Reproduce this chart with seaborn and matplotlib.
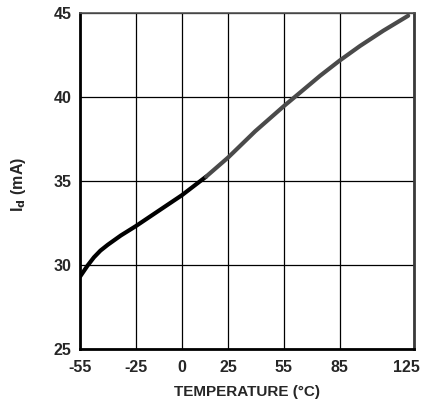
import numpy as np
import pandas as pd
import matplotlib
matplotlib.use('Agg')
import matplotlib.pyplot as plt
import matplotlib.transforms as mtransforms
import seaborn as sns

# values
temp_c = [-55, -51, -47.5, -44, -40, -33, -25, -11.5, 0, 13, 25, 39.5,
          55, 63.7, 74.5, 85, 96, 108.6, 122]
id_ma = [29.3, 29.95, 30.45, 30.85, 31.2, 31.75, 32.3, 33.3, 34.15, 35.25, 36.4, 37.95,
         39.45, 40.25, 41.25, 42.15, 43.02, 43.93, 44.82]

x_ticks = [-55, -25, 0, 25, 55, 85, 125]
y_ticks = [25, 30, 35, 40, 45]

sns.set_style("white")
plt.rcParams['font.family'] = ['Liberation Sans', 'DejaVu Sans']

df = pd.DataFrame({'temp': temp_c, 'id': id_ma})

fig = plt.figure(figsize=(4.22, 4.01), dpi=100)
ax = fig.add_axes([0.1896, 0.1297, 0.7908, 0.8386])

cold = df[df['temp'] <= 13]
warm = df[df['temp'] >= 13]
sns.lineplot(data=cold, x='temp', y='id', color='black', linewidth=3, ax=ax)
sns.lineplot(data=warm, x='temp', y='id', color='#4a4a4a', linewidth=3, ax=ax)

ax.set_xlim(-55, 125)
ax.set_ylim(25, 45)
ax.set_xticks(x_ticks)
ax.set_yticks(y_ticks)
ax.set_xticklabels([str(t) for t in x_ticks], fontsize=11.5, fontweight='bold')
ax.set_yticklabels([str(t) for t in y_ticks], fontsize=11.5, fontweight='bold')
ax.tick_params(axis='both', length=3, width=1, color='black', direction='out')
ax.tick_params(axis='y', pad=3)
ax.tick_params(axis='x', pad=5)

# keep the last x label inside the figure
last = ax.get_xticklabels()[-1]
last.set_transform(last.get_transform() + mtransforms.ScaledTranslation(-0.07, 0, fig.dpi_scale_trans))

ax.grid(True, color='black', linewidth=0.9)
ax.set_axisbelow(True)

for side in ['left', 'bottom']:
    ax.spines[side].set_color('black')
    ax.spines[side].set_linewidth(2)
ax.spines['right'].set_color('#3a3a3a')
ax.spines['right'].set_linewidth(2)
ax.spines['top'].set_color('#555555')
ax.spines['top'].set_linewidth(1.2)

ax.set_xlabel('TEMPERATURE (°C)', fontsize=11, fontweight='bold', labelpad=7)
ax.set_ylabel(r'I$_\mathbf{d}$ (mA)', fontsize=11.5, fontweight='bold')
ax.yaxis.set_label_coords(-0.155, 0.49)

fig.savefig('out.png', dpi=100)
